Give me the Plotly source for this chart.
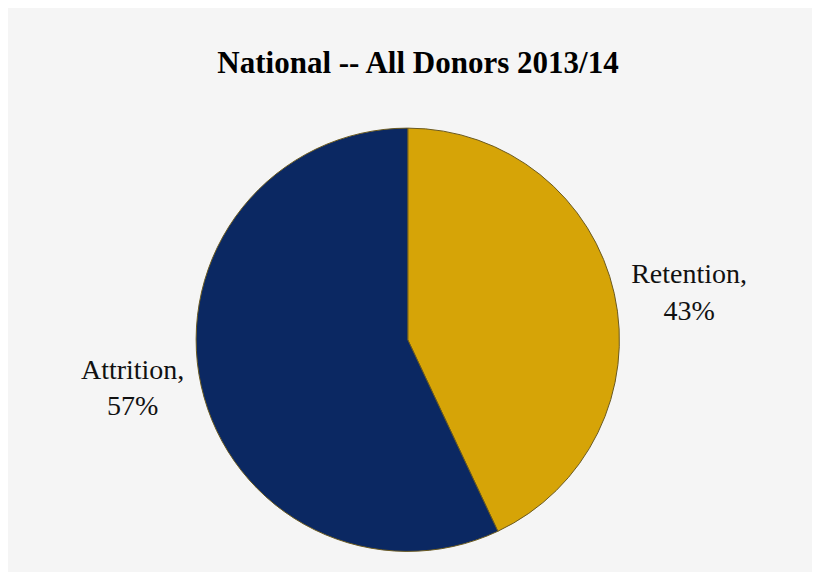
import plotly.graph_objects as go

labels = ["Retention", "Attrition"]
values = [43, 57]
colors = ["#D6A407", "#0B2862"]

fig = go.Figure(go.Pie(
    labels=labels,
    values=values,
    sort=False,
    direction="clockwise",
    rotation=0,
    marker=dict(colors=colors, line=dict(color="#6b5a20", width=1)),
    textposition="outside",
    texttemplate="%{label},<br>%{percent:.0%}",
    textfont=dict(family="Liberation Serif", size=28, color="#111111"),
    showlegend=False,
    hoverinfo="none",
    domain=dict(x=[0.229, 0.746], y=[0.05, 0.79]),
))

fig.update_layout(
    title=dict(text="<b>National -- All Donors 2013/14</b>", x=0.5, y=0.925, xanchor="center",
               font=dict(family="Liberation Serif", size=31, color="#000000")),
    paper_bgcolor="#f5f5f5",
    plot_bgcolor="#f5f5f5",
    width=820, height=572,
    margin=dict(l=0, r=0, t=0, b=0),
)

fig.write_html("out.html")
